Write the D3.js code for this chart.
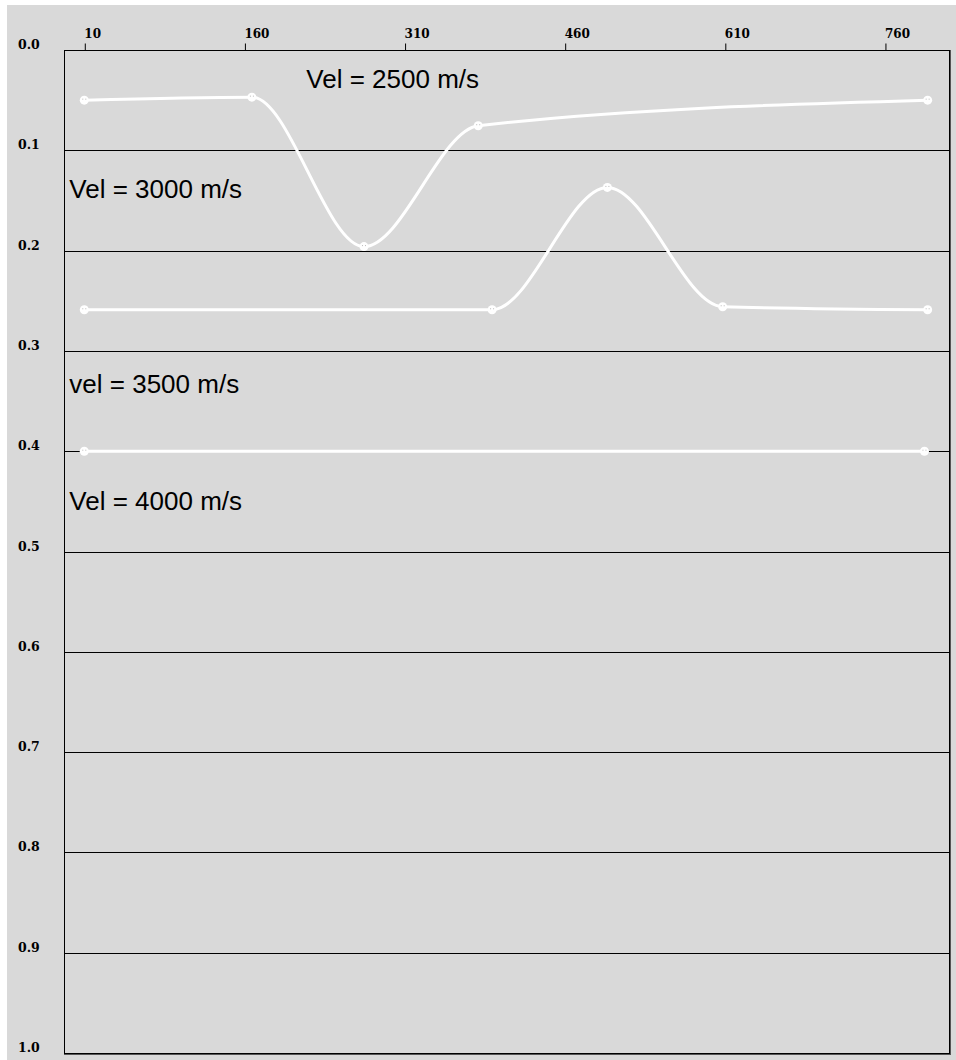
<!DOCTYPE html>
<html>
<head>
<meta charset="utf-8">
<script src="https://cdn.jsdelivr.net/npm/d3@7"></script>
<style>
  html, body { margin: 0; padding: 0; background: #ffffff; }
  svg { display: block; }
</style>
</head>
<body>
<svg id="chart" width="956" height="1060"></svg>
<script>
// Top axis: trace position; left axis: two-way time (s)
const xTicks = [10, 160, 310, 460, 610, 760];
const yTicks = [0.0, 0.1, 0.2, 0.3, 0.4, 0.5, 0.6, 0.7, 0.8, 0.9, 1.0];

// Picked horizon nodes (trace, time)
const horizon1X = [10, 167, 272, 379, 800];
const horizon1T = [0.050, 0.047, 0.196, 0.0755, 0.050];
const horizon2X = [10, 392, 500, 608, 800];
const horizon2T = [0.259, 0.259, 0.137, 0.256, 0.259];
const horizon3X = [10, 797];
const horizon3T = [0.400, 0.400];

// Layer velocity annotations
const layerLabels = ["Vel = 2500 m/s", "Vel = 3000 m/s", "vel = 3500 m/s", "Vel = 4000 m/s"];
const layerLabelX = [218, -4, -4, -4];
const layerLabelT = [0.038, 0.148, 0.342, 0.459];

const svg = d3.select("#chart");
const W = 956, H = 1060;

const x = d3.scaleLinear().domain([-9, 820]).range([64, 949]);
const y = d3.scaleLinear().domain([0, 1]).range([50, 1053]);

// panel background
svg.append("rect").attr("x", 7).attr("y", 5).attr("width", W - 7).attr("height", H - 5)
  .attr("fill", "#d9d9d9");

// horizontal grid lines
svg.append("g").selectAll("line")
  .data(yTicks.filter(d => d > 0 && d < 1))
  .join("line")
  .attr("x1", x.range()[0]).attr("x2", x.range()[1])
  .attr("y1", d => Math.round(y(d)) + 0.5).attr("y2", d => Math.round(y(d)) + 0.5)
  .attr("stroke", "#000").attr("stroke-width", 1);

// top axis
const xAxis = d3.axisTop(x).tickValues(xTicks).tickSize(7).tickFormat(d3.format("d"));
const gx = svg.append("g").attr("transform", `translate(0.5,${y(0) + 0.5})`).call(xAxis);
gx.select(".domain").remove();
gx.selectAll(".tick line").attr("stroke", "#000");
gx.selectAll(".tick text")
  .attr("text-anchor", "start")
  .attr("x", -1)
  .attr("y", -13)
  .attr("fill", "#000")
  .style("font-family", "'DejaVu Serif', serif")
  .style("font-weight", "bold")
  .style("font-size", "12px");

// left axis labels
const yAxis = d3.axisLeft(y).tickValues(yTicks).tickSize(0).tickFormat(d3.format(".1f"));
const gy = svg.append("g").attr("transform", `translate(18,0)`).call(yAxis);
gy.select(".domain").remove();
gy.selectAll(".tick text")
  .attr("text-anchor", "start")
  .attr("x", 0)
  .attr("dy", "-0.12em")
  .attr("fill", "#000")
  .style("font-family", "'DejaVu Serif', serif")
  .style("font-weight", "bold")
  .style("font-size", "12.5px");

// frame with darker right/bottom edge
const [fx0, fx1] = x.range(), [fy0, fy1] = y.range();
svg.append("line").attr("x1", fx1 + 1).attr("x2", fx1 + 1).attr("y1", fy0).attr("y2", fy1 + 2)
  .attr("stroke", "#555").attr("stroke-width", 2);
svg.append("line").attr("x1", fx0).attr("x2", fx1 + 2).attr("y1", fy1 + 1).attr("y2", fy1 + 1)
  .attr("stroke", "#555").attr("stroke-width", 2);
svg.append("rect").attr("x", fx0 + 0.5).attr("y", fy0 + 0.5)
  .attr("width", fx1 - fx0).attr("height", fy1 - fy0)
  .attr("fill", "none").attr("stroke", "#000").attr("stroke-width", 1);

// horizons
const horizons = [
  d3.zip(horizon1X, horizon1T),
  d3.zip(horizon2X, horizon2T),
  d3.zip(horizon3X, horizon3T)
];
const line = d3.line().x(d => x(d[0])).y(d => y(d[1])).curve(d3.curveMonotoneX);

const hg = svg.append("g");
hg.selectAll("path.horizon")
  .data(horizons)
  .join("path")
  .attr("class", "horizon")
  .attr("d", line)
  .attr("fill", "none")
  .attr("stroke", "#ffffff")
  .attr("stroke-width", 3);

// node markers
const nodes = horizons.flat();
const mg = hg.selectAll("g.node").data(nodes).join("g")
  .attr("class", "node")
  .attr("transform", d => `translate(${x(d[0])},${y(d[1])})`);
mg.append("circle").attr("r", 4.5).attr("fill", "#ffffff");
mg.append("rect").attr("x", -2).attr("y", -1.5).attr("width", 1).attr("height", 1).attr("fill", "#bbb");
mg.append("rect").attr("x", 1).attr("y", -1.5).attr("width", 1).attr("height", 1).attr("fill", "#bbb");

// layer labels
svg.append("g").selectAll("text")
  .data(layerLabels)
  .join("text")
  .attr("x", (d, i) => x(layerLabelX[i]))
  .attr("y", (d, i) => y(layerLabelT[i]))
  .attr("fill", "#000")
  .style("font-family", "'Liberation Sans', Arial, sans-serif")
  .style("font-size", "26px")
  .text(d => d);
</script>
</body>
</html>
